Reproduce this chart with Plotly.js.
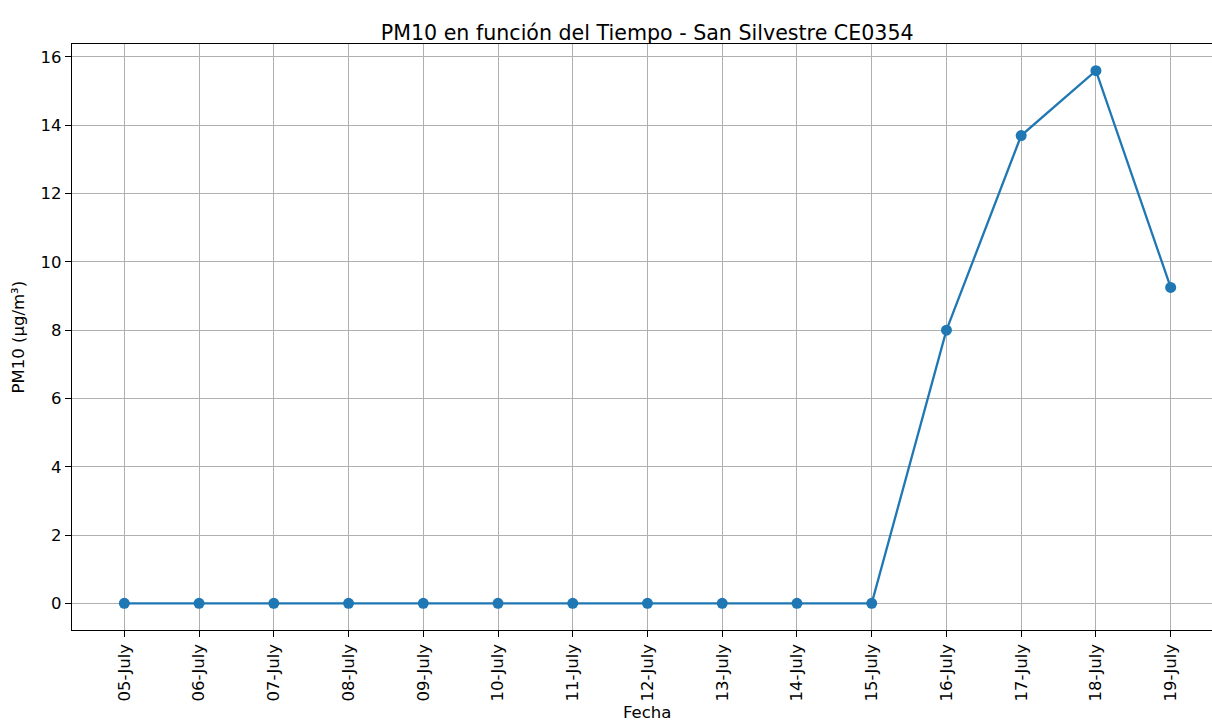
<!DOCTYPE html>
<html>
<head>
<meta charset="utf-8">
<script src="https://cdn.plot.ly/plotly-3.0.1.min.js"></script>
<style>html,body{margin:0;padding:0;background:#fff}#chart{width:1212px;height:723px}</style>
</head>
<body>
<div id="chart"></div>
<script>
const fechas = ["05-July","06-July","07-July","08-July","09-July","10-July","11-July","12-July","13-July","14-July","15-July","16-July","17-July","18-July","19-July"];
const pm10 = [0,0,0,0,0,0,0,0,0,0,0,8.0,13.7,15.6,9.25];
const titulo = "PM10 en función del Tiempo - San Silvestre CE0354";
const ejeX = "Fecha";
const ejeY = "PM10 (µg/m³)";

const font = "DejaVu Sans, Liberation Sans, sans-serif";
const trace = {
  x: fechas, y: pm10, type: "scatter", mode: "lines+markers",
  line: {color: "#1f77b4", width: 2.3},
  marker: {color: "#1f77b4", size: 11},
  hoverinfo: "x+y"
};
const layout = {
  width: 1212, height: 723,
  margin: {l: 72, r: 0, t: 44, b: 93, pad: 0},
  paper_bgcolor: "#fff", plot_bgcolor: "#fff",
  font: {family: font, color: "#000", size: 16},
  showlegend: false,
  title: {text: titulo, font: {family: font, size: 20.6, color: "#000"}, xref: "container", x: 0.534, xanchor: "center", yref: "container", y: 0.955, yanchor: "middle"},
  xaxis: {
    type: "category", range: [-0.7, 14.553],
    showgrid: true, gridcolor: "#b0b0b0", gridwidth: 1,
    showline: true, linecolor: "#000", linewidth: 1.3, mirror: true,
    ticks: "outside", ticklen: 6, tickcolor: "#000", tickwidth: 1,
    tickangle: -90, tickfont: {family: font, size: 16.5, color: "#000"},
    zeroline: false, automargin: false
  },
  yaxis: {
    range: [-0.78, 16.38], dtick: 2, tick0: 0,
    showgrid: true, gridcolor: "#b0b0b0", gridwidth: 1,
    showline: true, linecolor: "#000", linewidth: 1.3, mirror: false,
    ticks: "outside", ticklen: 6, tickcolor: "#000", tickwidth: 1,
    tickfont: {family: font, size: 16.5, color: "#000"},
    zeroline: false, automargin: false
  },
  annotations: [
    {text: ejeX, xref: "paper", x: 0.504, xanchor: "center", yref: "paper", y: -0.1405, yanchor: "middle", showarrow: false, font: {family: font, size: 16.5, color: "#000"}},
    {text: ejeY, xref: "paper", x: -0.047, xanchor: "center", yref: "paper", y: 0.5, yanchor: "middle", textangle: -90, showarrow: false, font: {family: font, size: 16.5, color: "#000"}}
  ]
};
Plotly.newPlot("chart", [trace], layout, {displayModeBar: false, staticPlot: true});
</script>
</body>
</html>
